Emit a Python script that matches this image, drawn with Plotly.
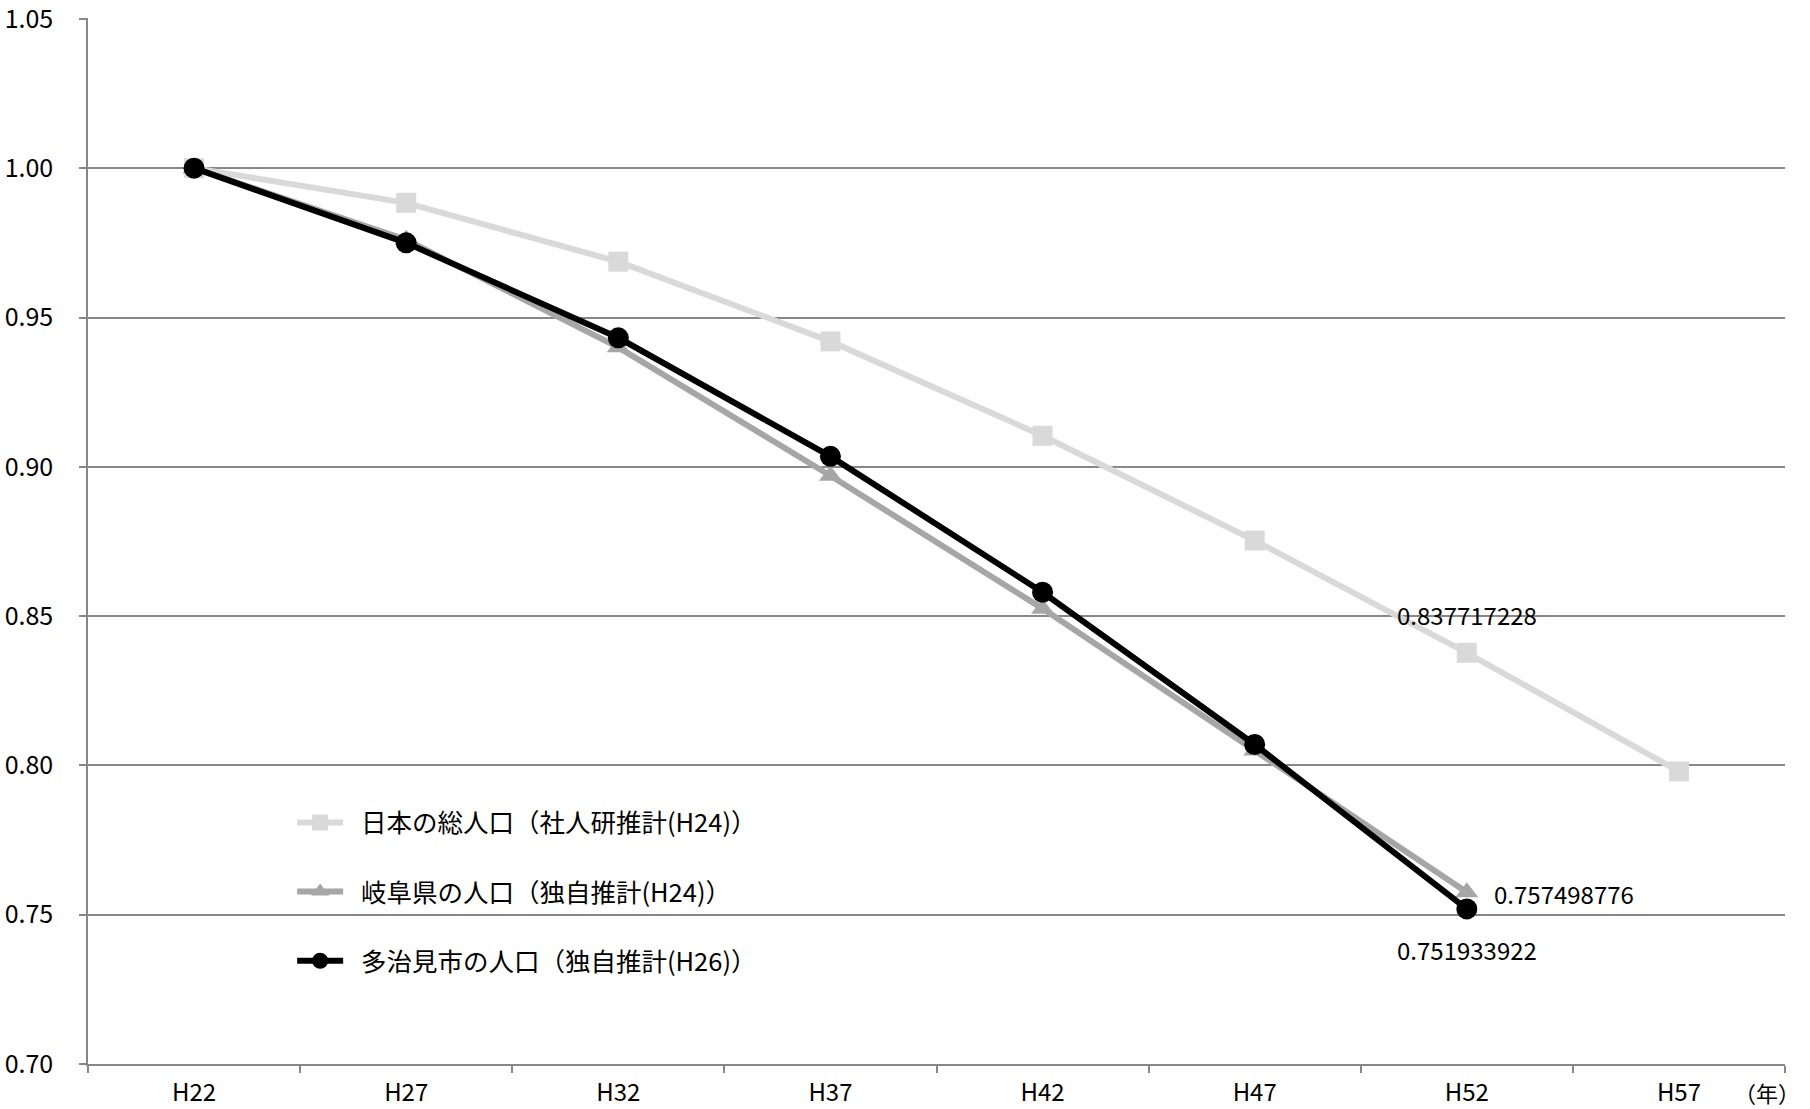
import plotly.graph_objects as go

categories = ["H22", "H27", "H32", "H37", "H42", "H47", "H52", "H57"]
japan = [1.0, 0.9884, 0.9687, 0.9420, 0.9104, 0.8753, 0.837717228, 0.7980]
gifu = [1.0, 0.9760, 0.9400, 0.8970, 0.8525, 0.8050, 0.757498776]
tajimi = [1.0, 0.9750, 0.9432, 0.9035, 0.8580, 0.8070, 0.751933922]

names = ["日本の総人口（社人研推計(H24)）", "岐阜県の人口（独自推計(H24)）", "多治見市の人口（独自推計(H26)）"]
FONT = "Noto Sans CJK JP"

fig = go.Figure()
fig.add_trace(go.Scatter(x=categories[:len(japan)], y=japan, mode="lines+markers", name="\u2002" + names[0],
                         line=dict(color="#d9d9d9", width=6),
                         marker=dict(symbol="square", size=20, color="#d9d9d9"),
                         legendgroup="a"))
fig.add_trace(go.Scatter(x=categories[:len(gifu)], y=gifu, mode="lines+markers", name="\u2002" + names[1],
                         line=dict(color="#a6a6a6", width=6),
                         marker=dict(symbol="triangle-up", size=20, color="#a6a6a6"),
                         legendgroup="b"))
fig.add_trace(go.Scatter(x=categories[:len(tajimi)], y=tajimi, mode="lines+markers", name="\u2002" + names[2],
                         line=dict(color="#000000", width=6),
                         marker=dict(symbol="circle", size=21, color="#000000"),
                         legendgroup="c"))

lab_font = dict(family=FONT, size=24, color="#000000")
fig.add_annotation(x=categories[6], y=japan[6], text=f"{japan[6]:.9f}", showarrow=False,
                   yshift=38, font=lab_font)
fig.add_annotation(x=categories[6], y=gifu[6], text=f"{gifu[6]:.9f}", showarrow=False,
                   xshift=25, xanchor="left", yshift=-1, font=lab_font)
fig.add_annotation(x=categories[6], y=tajimi[6], text=f"{tajimi[6]:.9f}", showarrow=False,
                   yshift=-41, font=lab_font)
fig.add_annotation(x=1.010, y=-0.027, xref="paper", yref="paper", yanchor="middle",
                   text="（年）", showarrow=False,
                   font=dict(family=FONT, size=22, color="#000000"))

fig.update_layout(
    width=1810, height=1109,
    margin=dict(l=88, r=25, t=18, b=45),
    plot_bgcolor="white", paper_bgcolor="white",
    font=dict(family=FONT, size=24, color="#000000"),
    showlegend=True,
    legend=dict(x=0.1203, y=0.253, xanchor="left", yanchor="top",
                bgcolor="rgba(0,0,0,0)", font=dict(family=FONT, size=25.5, color="#000000"),
                tracegroupgap=33, itemwidth=46),
    xaxis=dict(type="category", categoryorder="array", categoryarray=categories,
               range=[-0.5, 7.5], tickson="boundaries", ticks="outside", ticklen=7,
               tickcolor="#878787", tickwidth=1.5, showline=True, linecolor="#878787", linewidth=1.5,
               showgrid=False, tickfont=dict(family=FONT, size=24), ticklabelstandoff=6,
               automargin=False, ticklabeloverflow="allow"),
    yaxis=dict(range=[0.70, 1.0503], dtick=0.05, tick0=0.70, tickformat=".2f",
               ticks="outside", ticklen=7, tickcolor="#878787", tickwidth=1.5,
               showline=True, linecolor="#878787", linewidth=1.5,
               showgrid=True, gridcolor="#878787", gridwidth=1.5, zeroline=False,
               tickfont=dict(family=FONT, size=25), ticklabelstandoff=21,
               automargin=False, ticklabeloverflow="allow"),
)

fig.write_html("out.html", config={"displayModeBar": False},
               post_script="document.body.style.margin='0';")
